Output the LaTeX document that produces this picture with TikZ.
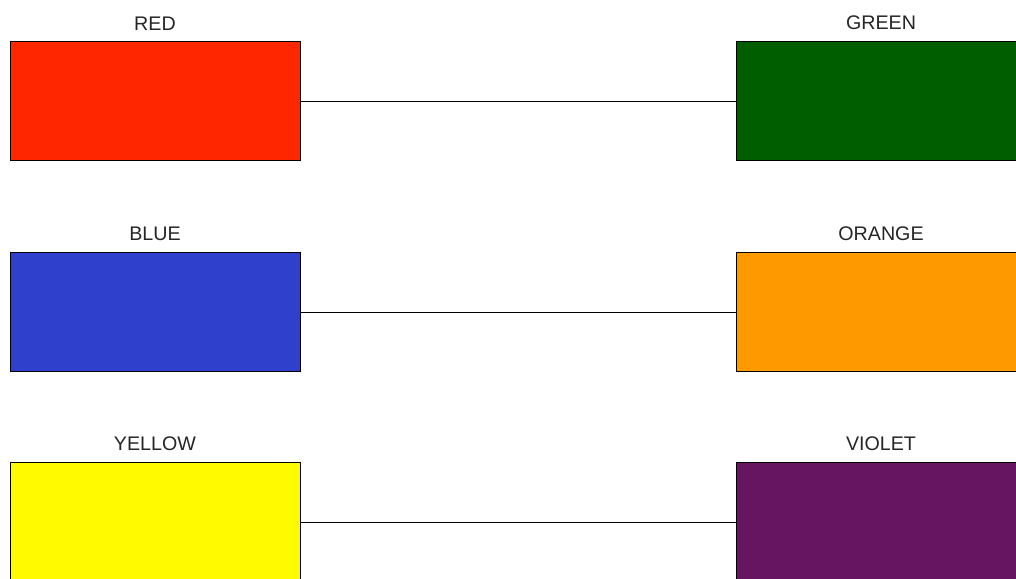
\documentclass[tikz,border=0pt]{standalone}
\usepackage{fontspec}
\setmainfont{Liberation Sans}
\usepackage{xcolor}
\usepackage{tikz}
\usetikzlibrary{positioning}

\definecolor{cred}{RGB}{255,38,0}
\definecolor{cgreen}{RGB}{0,94,0}
\definecolor{cblue}{RGB}{46,64,204}
\definecolor{corange}{RGB}{255,153,0}
\definecolor{cyellow}{RGB}{255,250,0}
\definecolor{cviolet}{RGB}{102,22,96}

\begin{document}
\begin{tikzpicture}[
    swatch/.style={draw, line width=0.7pt, minimum width=7.25cm, minimum height=2.975cm, inner sep=0pt},
    caption/.style={inner sep=0pt, text=black!85, font=\fontsize{14}{16}\selectfont},
    link/.style={line width=0.7pt}
]
    \clip (0,0) rectangle (25.4,14.475);

    \node[swatch, fill=cred] (red) at (3.875, 11.9375) {};
    \node[swatch, fill=cgreen] (green) at (22.025, 11.9375) {};
    \node[swatch, fill=cblue] (blue) at (3.875, 6.6625) {};
    \node[swatch, fill=corange] (orange) at (22.025, 6.6625) {};
    \node[swatch, fill=cyellow] (yellow) at (3.875, 1.4125) {};
    \node[swatch, fill=cviolet] (violet) at (22.025, 1.4125) {};

    \node[caption, above=0.28cm of red] (redlbl) {RED};
    \node[caption, above=0.28cm of green] (greenlbl) {GREEN};
    \node[caption, above=0.28cm of blue] (bluelbl) {BLUE};
    \node[caption, above=0.28cm of orange] (orangelbl) {ORANGE};
    \node[caption, above=0.28cm of yellow] (yellowlbl) {YELLOW};
    \node[caption, above=0.28cm of violet] (violetlbl) {VIOLET};

    \draw[link] (red) -- (green);
    \draw[link] (blue) -- (orange);
    \draw[link] (yellow) -- (violet);
\end{tikzpicture}
\end{document}
